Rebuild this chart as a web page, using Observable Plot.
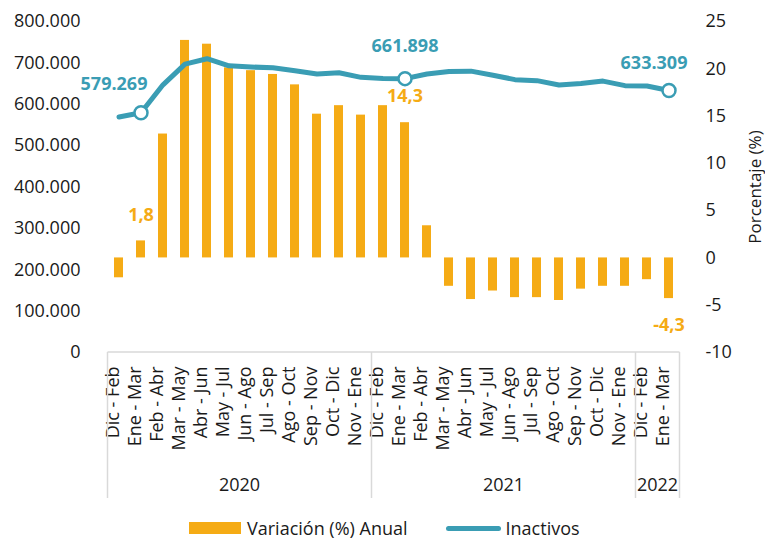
<!DOCTYPE html>
<html>
<head>
<meta charset="utf-8">
<script src="https://cdn.jsdelivr.net/npm/d3@7"></script>
<script src="https://cdn.jsdelivr.net/npm/@observablehq/plot@0.6"></script>
<style>
  body { margin: 0; background: #fff; font-family: "Open Sans", sans-serif; }
  #chart svg { display: block; }
  #legend { display: flex; align-items: center; height: 24px; padding-left: 189px; font-size: 18px; color: #1a1a1a; font-family: "Open Sans", sans-serif; }
  .sw-bar { display: inline-block; width: 52px; height: 12px; background: #F5AB15; margin-right: 6px; }
  .sw-line { display: inline-block; width: 55px; height: 5px; border-radius: 3px; background: #3A9DB4; margin-left: 38px; margin-right: 5px; }
</style>
</head>
<body>
<div id="chart"></div>
<div id="legend"><span class="sw-bar"></span><span>Variación (%) Anual</span><span class="sw-line"></span><span>Inactivos</span></div>
<script>
const periods = ["Dic - Feb","Ene - Mar","Feb - Abr","Mar - May","Abr - Jun","May - Jul","Jun - Ago","Jul - Sep","Ago - Oct","Sep - Nov","Oct - Dic","Nov - Ene",
                 "Dic - Feb","Ene - Mar","Feb - Abr","Mar - May","Abr - Jun","May - Jul","Jun - Ago","Jul - Sep","Ago - Oct","Sep - Nov","Oct - Dic","Nov - Ene",
                 "Dic - Feb","Ene - Mar"];
const years = ["2020","2020","2020","2020","2020","2020","2020","2020","2020","2020","2020","2020",
               "2021","2021","2021","2021","2021","2021","2021","2021","2021","2021","2021","2021",
               "2022","2022"];
const variacion = [-2.1, 1.8, 13.1, 23.0, 22.6, 20.1, 19.8, 19.4, 18.3, 15.2, 16.1, 15.1,
                   16.1, 14.3, 3.4, -3.0, -4.4, -3.5, -4.2, -4.2, -4.5, -3.3, -3.0, -3.0,
                   -2.3, -4.3];
const inactivos = [569000, 579269, 647000, 697000, 710000, 693000, 690000, 688000, 681000, 673000, 676000, 665000,
                   662000, 661898, 673000, 679000, 680000, 670000, 659500, 657000, 646500, 650000, 656000, 645000,
                   644000, 633309];
const leftTicks = [0, 100000, 200000, 300000, 400000, 500000, 600000, 700000, 800000];
const rightTicks = [-10, -5, 0, 5, 10, 15, 20, 25];
const labelIdx = [1, 13, 25];

const ORANGE = "#F5AB15", TEAL = "#3A9DB4", INK = "#1a1a1a";
const leftMax = 800000, rMin = -10, rMax = 25;
const toPct = v => v / leftMax * (rMax - rMin) + rMin;
const fromPct = p => Math.round((p - rMin) / (rMax - rMin) * leftMax);

const loc = d3.formatLocale({decimal: ",", thousands: ".", grouping: [3], currency: ["", ""], minus: "-"});
const fmtInt = loc.format(",d");
const fmtPct = loc.format(",.1f");
const fmtTick = loc.format("d");

const rows = periods.map((p, i) => ({
  key: years[i] + "|" + p, period: p, year: years[i],
  pct: variacion[i], inact: inactivos[i], yLine: toPct(inactivos[i]), i
}));
const lab = rows.filter(d => labelIdx.includes(d.i));

const W = 765, H = 516, MB = H - 352;
const chart = Plot.plot({
  width: W, height: H,
  marginTop: 21, marginBottom: MB, marginLeft: 105, marginRight: 83,
  style: {fontFamily: "Open Sans, sans-serif", fontSize: "18px", color: INK, background: "white"},
  x: {type: "band", domain: rows.map(d => d.key), paddingInner: 0.6, paddingOuter: 0.3, axis: null},
  y: {domain: [rMin, rMax], axis: null},
  marks: [
    Plot.axisY(leftTicks.map(toPct), {anchor: "left", tickSize: 0, tickPadding: 25, tickFormat: d => fmtInt(fromPct(d)), label: null, fontSize: 18, fill: INK}),
    Plot.axisY(rightTicks, {anchor: "right", tickSize: 0, tickPadding: 23, tickFormat: d => fmtTick(d), label: null, fontSize: 18, fill: INK}),
    Plot.text(["Porcentaje (%)"], {frameAnchor: "right", textAnchor: "middle", dx: 73, rotate: -90, fontSize: 17, fill: INK}),
    Plot.barY(rows, {x: "key", y: "pct", fill: ORANGE}),
    Plot.line(rows, {x: "key", y: "yLine", stroke: TEAL, strokeWidth: 5, strokeLinejoin: "round", strokeLinecap: "round"}),
    Plot.dot(lab, {x: "key", y: "yLine", r: 6.5, fill: "white", stroke: TEAL, strokeWidth: 2.5}),
    Plot.text(lab.filter(d => d.i === 1), {x: "key", y: "yLine", text: d => fmtInt(d.inact), dx: -27, dy: -29, fill: TEAL, fontWeight: "bold", fontSize: 18}),
    Plot.text(lab.filter(d => d.i === 13), {x: "key", y: "yLine", text: d => fmtInt(d.inact), dx: 0, dy: -32, fill: TEAL, fontWeight: "bold", fontSize: 18}),
    Plot.text(lab.filter(d => d.i === 25), {x: "key", y: "yLine", text: d => fmtInt(d.inact), dx: -15, dy: -27, fill: TEAL, fontWeight: "bold", fontSize: 18}),
    Plot.text(lab.filter(d => d.pct >= 0), {x: "key", y: "pct", text: d => fmtPct(d.pct), dy: -26, fill: ORANGE, fontWeight: "bold", fontSize: 18}),
    Plot.text(lab.filter(d => d.pct < 0), {x: "key", y: "pct", text: d => fmtPct(d.pct), dy: 27, fill: ORANGE, fontWeight: "bold", fontSize: 18}),
    Plot.text(rows, {x: "key", text: "period", frameAnchor: "bottom", dy: 14, rotate: -90, textAnchor: "end", fontSize: 18, fill: INK})
  ]
});
document.getElementById("chart").appendChild(chart);

// category table (year groups) using the plot's x scale
const xs = chart.scale("x");
const step = xs.step, bw = xs.bandwidth;
const gap = step - bw;
const yTop = H - MB, yBot = 498;
const svg = d3.select(chart);
const g = svg.append("g").attr("stroke", "#d9d9d9").attr("stroke-width", 1.5);
const keys = rows.map(d => d.key);
const x0 = xs.apply(keys[0]) - gap / 2;
const x1 = xs.apply(keys[keys.length - 1]) + bw + gap / 2;
g.append("line").attr("x1", x0).attr("x2", x1).attr("y1", yTop).attr("y2", yTop);
const groups = d3.groups(rows, d => d.year);
const bounds = [x0];
groups.forEach(([yr, arr]) => bounds.push(xs.apply(arr[arr.length - 1].key) + bw + gap / 2));
bounds.forEach(b => g.append("line").attr("x1", b).attr("x2", b).attr("y1", yTop).attr("y2", yBot));
const tg = svg.append("g").attr("font-family", "Open Sans, sans-serif").attr("font-size", 18).attr("fill", INK).attr("text-anchor", "middle");
groups.forEach(([yr, arr]) => {
  const a = xs.apply(arr[0].key), b = xs.apply(arr[arr.length - 1].key) + bw;
  tg.append("text").attr("x", (a + b) / 2).attr("y", 485).attr("dy", "0.35em").text(yr);
});
</script>
</body>
</html>
